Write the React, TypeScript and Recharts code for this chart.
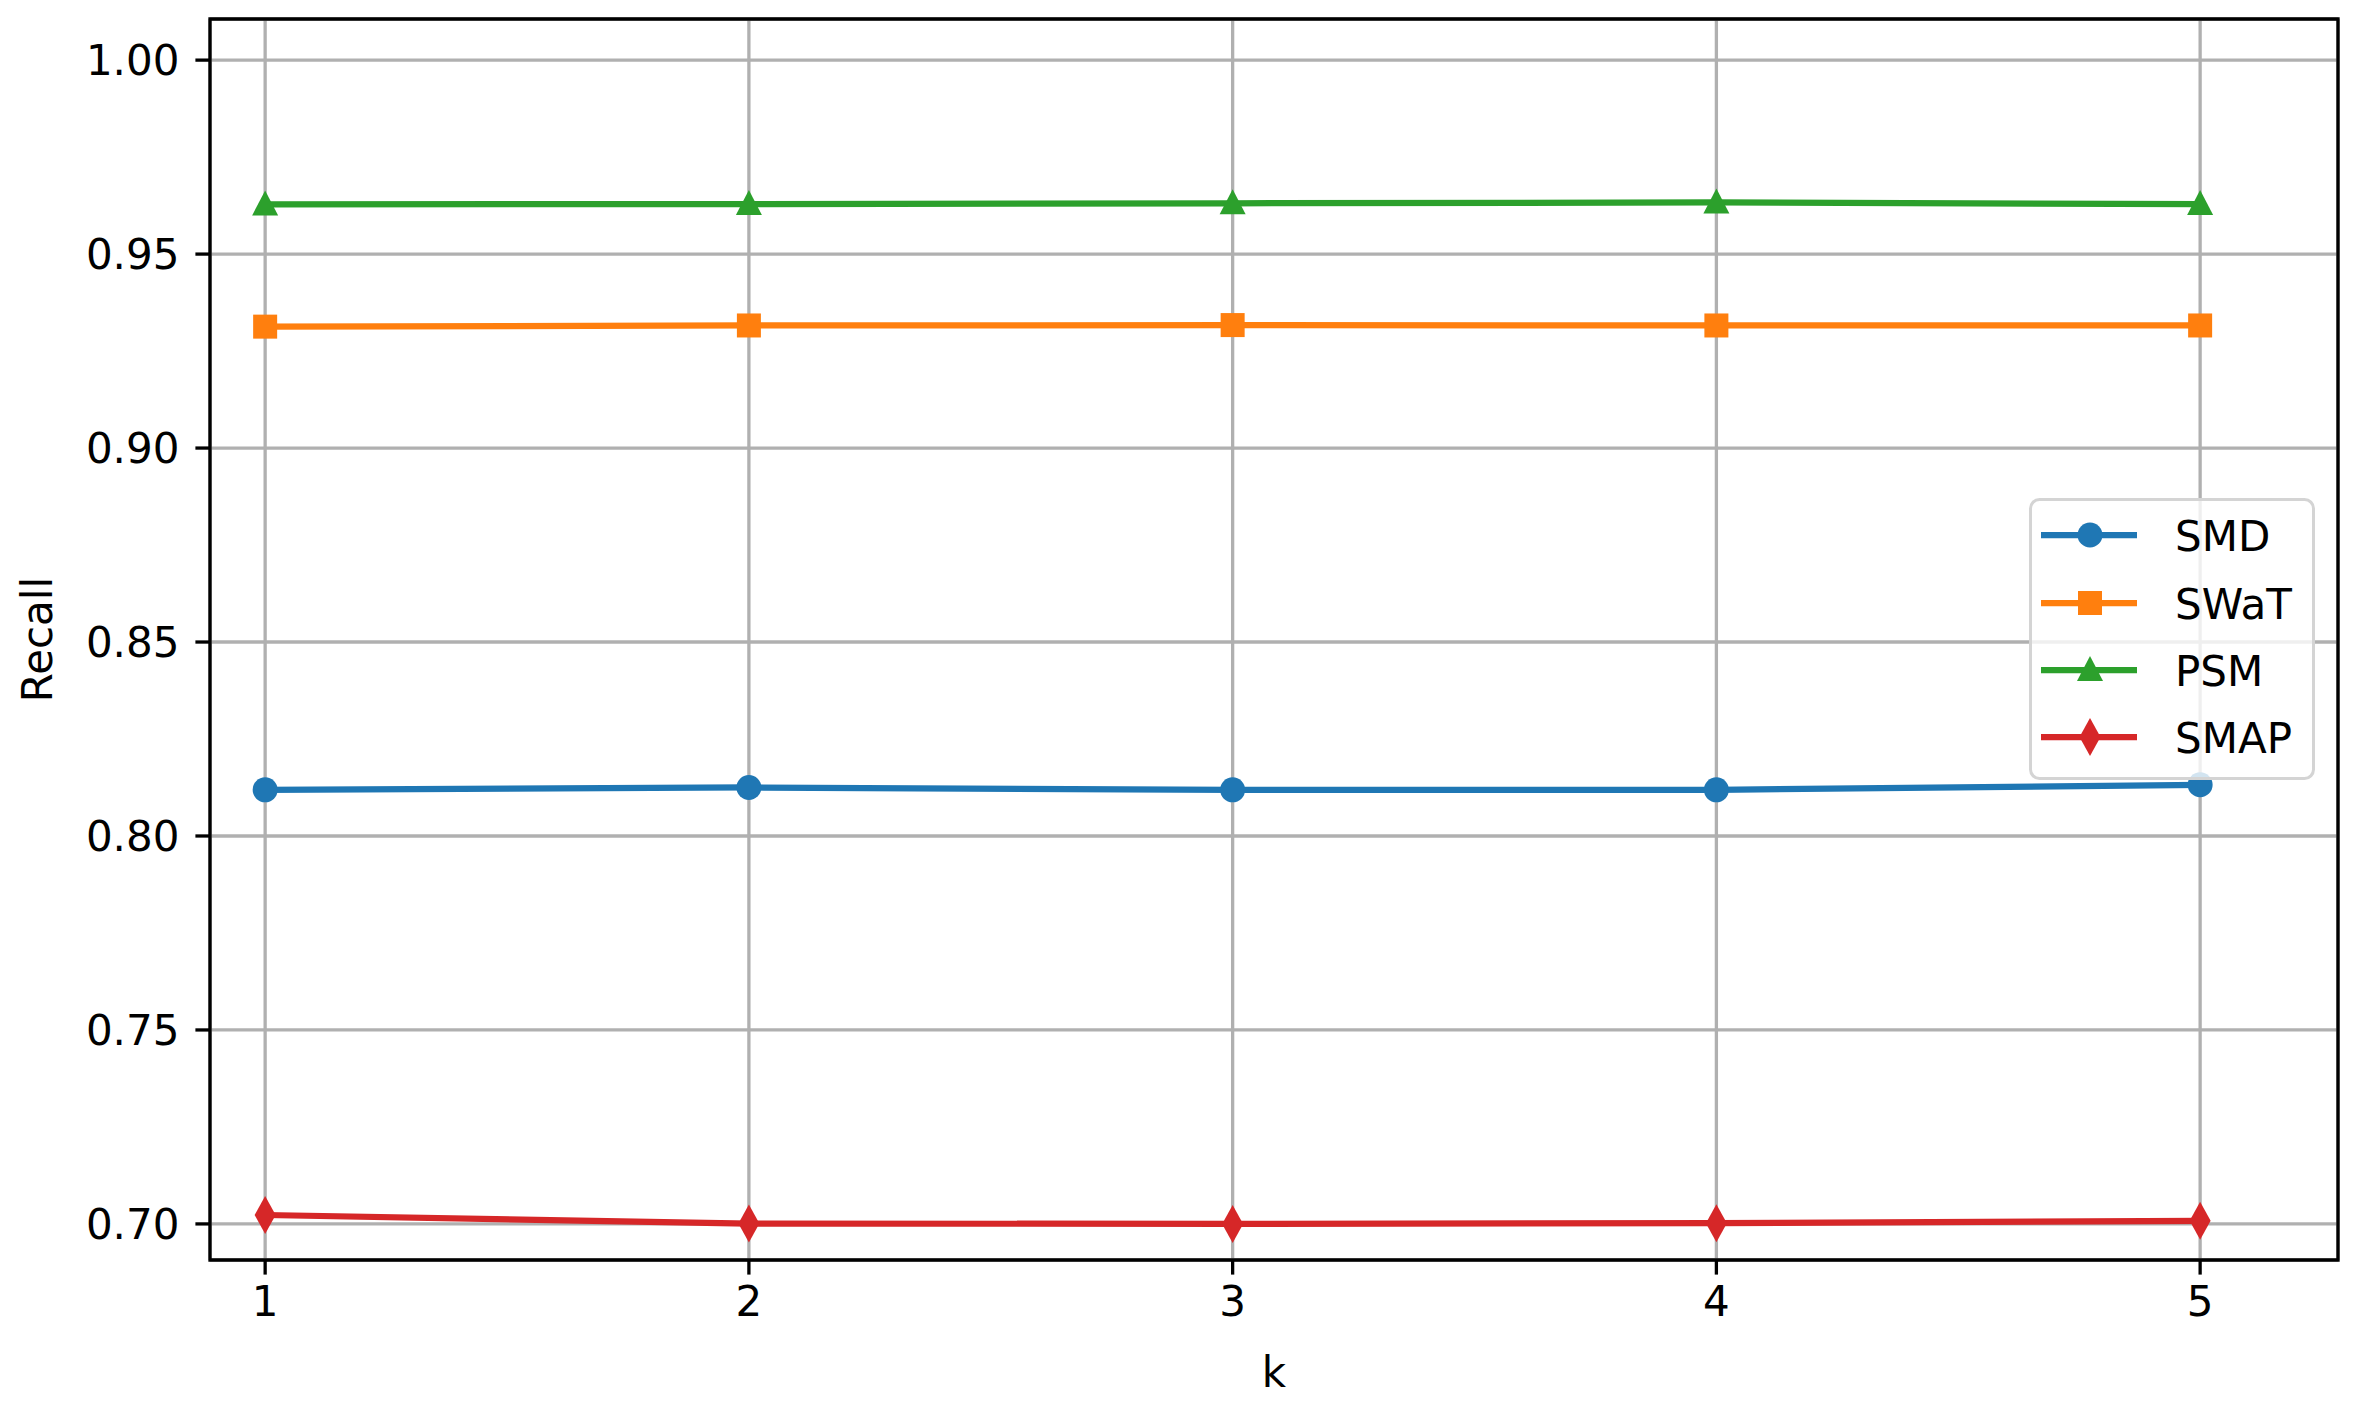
import React from 'react';
import {
    LineChart, Line, XAxis, YAxis, CartesianGrid, Legend, ReferenceArea
} from 'recharts';

// values
const kValues = [1, 2, 3, 4, 5];
const smdRecall = [0.8119, 0.8125, 0.8119, 0.8119, 0.8132];
const swatRecall = [0.9313, 0.9316, 0.9317, 0.9316, 0.9316];
const psmRecall = [0.9628, 0.9629, 0.9631, 0.9633, 0.9629];
const smapRecall = [0.7023, 0.7001, 0.7000, 0.7002, 0.7008];

const xTicks = [1, 2, 3, 4, 5];
const yTicks = [0.70, 0.75, 0.80, 0.85, 0.90, 0.95, 1.00];

const X_DOMAIN: [number, number] = [0.886, 5.285];
const Y_DOMAIN: [number, number] = [0.6907, 1.0106];

const SERIES = [
    { key: 'SMD', color: '#1f77b4', marker: 'circle' },
    { key: 'SWaT', color: '#ff7f0e', marker: 'square' },
    { key: 'PSM', color: '#2ca02c', marker: 'triangle' },
    { key: 'SMAP', color: '#d62728', marker: 'diamond' },
];

const rows = kValues.map((k, i) => ({
    k,
    SMD: smdRecall[i],
    SWaT: swatRecall[i],
    PSM: psmRecall[i],
    SMAP: smapRecall[i],
}));

const FONT = "'DejaVu Sans', sans-serif";

function MarkerShape({ cx, cy, color, marker }: { cx: number; cy: number; color: string; marker: string }) {
    if (marker === 'circle') return <circle cx={cx} cy={cy} r={12.5} fill={color} />;
    if (marker === 'square') return <rect x={cx - 12} y={cy - 12} width={24} height={24} fill={color} />;
    if (marker === 'triangle') {
        return <polygon points={`${cx},${cy - 14} ${cx + 13},${cy + 11} ${cx - 13},${cy + 11}`} fill={color} />;
    }
    return <polygon points={`${cx},${cy - 19} ${cx + 10.5},${cy} ${cx},${cy + 19} ${cx - 10.5},${cy}`} fill={color} />;
}

const makeDot = (color: string, marker: string) => (props: any) => (
    <MarkerShape key={`${marker}-${props.index}`} cx={props.cx} cy={props.cy} color={color} marker={marker} />
);

function LegendBox() {
    const rowY = [37, 105, 172, 239];
    return (
        <svg width={290} height={286} style={{ overflow: 'visible' }}>
            <rect x={1.5} y={1.5} width={283} height={279} rx={9} ry={9}
                fill="#ffffff" fillOpacity={0.8} stroke="#d4d4d4" strokeWidth={3} />
            {SERIES.map((s, i) => (
                <g key={s.key}>
                    <line x1={12} x2={108} y1={rowY[i]} y2={rowY[i]} stroke={s.color} strokeWidth={6.25} />
                    <MarkerShape cx={61} cy={rowY[i]} color={s.color} marker={s.marker} />
                    <text x={146} y={rowY[i] + 16} fontSize={42} fontFamily={FONT} fill="#000">{s.key}</text>
                </g>
            ))}
        </svg>
    );
}

export default function App() {
    return (
        <div style={{ position: 'absolute', left: 0, top: 0, width: 2365, height: 1405, background: '#fff', fontFamily: FONT }}>
            <LineChart width={2365} height={1405} data={rows} margin={{ top: 19, right: 27, left: 0, bottom: 0 }}>
                <CartesianGrid stroke="#b0b0b0" strokeWidth={3.3} />
                <XAxis
                    dataKey="k"
                    type="number"
                    domain={X_DOMAIN}
                    ticks={xTicks}
                    interval={0}
                    allowDataOverflow
                    height={145}
                    axisLine={false}
                    tickSize={14.6}
                    tickMargin={12}
                    tickLine={{ stroke: '#000', strokeWidth: 3.3 }}
                    tick={{ fontSize: 42, fill: '#000', fontFamily: FONT }}
                    label={{
                        content: (p: any) => (
                            <text x={p.viewBox.x + p.viewBox.width / 2} y={p.viewBox.y + 127}
                                textAnchor="middle" fontSize={42} fontFamily={FONT} fill="#000">k</text>
                        )
                    }}
                />
                <YAxis
                    type="number"
                    domain={Y_DOMAIN}
                    ticks={yTicks}
                    interval={0}
                    allowDataOverflow
                    width={210}
                    axisLine={false}
                    tickSize={14.6}
                    tickMargin={16}
                    tickLine={{ stroke: '#000', strokeWidth: 3.3 }}
                    tick={{ fontSize: 42, fill: '#000', fontFamily: FONT }}
                    tickFormatter={(v: number) => v.toFixed(2)}
                    label={{
                        content: (p: any) => {
                            const cy = p.viewBox.y + p.viewBox.height / 2;
                            return (
                                <text x={52} y={cy} transform={`rotate(-90, 52, ${cy})`}
                                    textAnchor="middle" fontSize={42} fontFamily={FONT} fill="#000">Recall</text>
                            );
                        }
                    }}
                />
                <ReferenceArea x1={X_DOMAIN[0]} x2={X_DOMAIN[1]} y1={Y_DOMAIN[0]} y2={Y_DOMAIN[1]}
                    fill="none" stroke="#000" strokeWidth={3.3} ifOverflow="visible" />
                {SERIES.map((s) => (
                    <Line
                        key={s.key}
                        dataKey={s.key}
                        stroke={s.color}
                        strokeWidth={6.25}
                        dot={makeDot(s.color, s.marker)}
                        activeDot={false}
                        isAnimationActive={false}
                    />
                ))}
                <Legend
                    layout="horizontal"
                    verticalAlign="middle"
                    align="center"
                    content={() => <LegendBox />}
                    wrapperStyle={{ position: 'absolute', left: 2029, top: 498, width: 290, height: 286 }}
                />
            </LineChart>
        </div>
    );
}
